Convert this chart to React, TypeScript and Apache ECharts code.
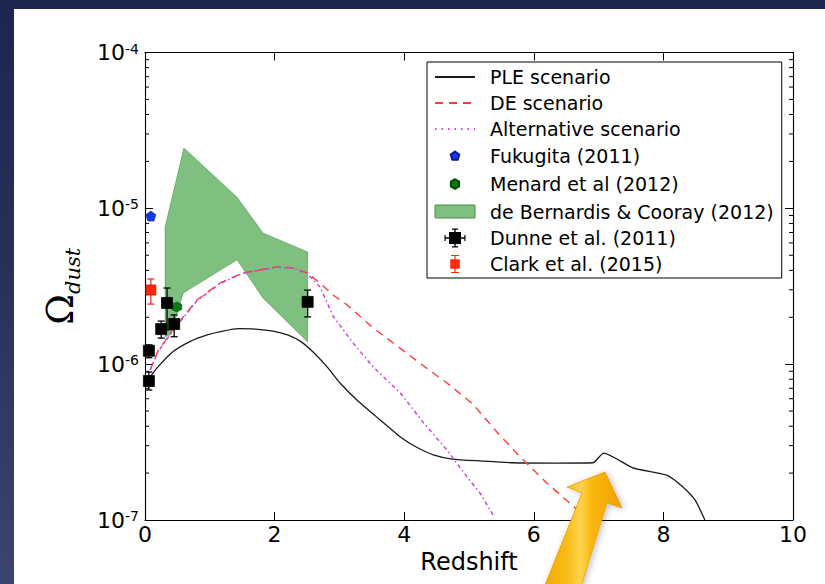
import React, { useEffect, useRef } from 'react';
import * as echarts from 'echarts';

// Axis ranges
const zRange = [0, 10];
const omegaRange = [1e-7, 1e-4];
const minorMultipliers = [2, 3, 4, 5, 6, 7, 8, 9];
const minorDecades = [1e-7, 1e-6, 1e-5];

// PLE scenario (solid black)
const pleZ = [0.08, 0.2, 0.43, 0.7, 0.96, 1.2, 1.45, 1.7, 1.98, 2.2, 2.4, 2.59, 2.81, 3.01, 3.27, 3.63, 3.94, 4.2, 4.45, 4.74, 5.2, 5.68, 6.3, 6.91, 7.08, 7.53, 8.05, 8.3, 8.49, 8.64];
const pleOmega = [8.28e-7, 9.6e-7, 1.2e-6, 1.4e-6, 1.54e-6, 1.63e-6, 1.69e-6, 1.68e-6, 1.63e-6, 1.54e-6, 1.4e-6, 1.2e-6, 9.6e-7, 7.57e-7, 5.89e-7, 4.38e-7, 3.41e-7, 2.92e-7, 2.62e-7, 2.46e-7, 2.39e-7, 2.33e-7, 2.32e-7, 2.33e-7, 2.69e-7, 2.16e-7, 1.94e-7, 1.63e-7, 1.34e-7, 1.0e-7];

// DE scenario (red dashed)
const deZ = [0.08, 0.2, 0.43, 0.8, 1.16, 1.51, 2.03, 2.3, 2.5, 2.7, 2.9, 3.12, 3.52, 3.89, 4.3, 4.66, 5.06, 5.43, 5.79, 6.2, 6.53, 6.85];
const deOmega = [9.18e-7, 1.22e-6, 1.66e-6, 2.58e-6, 3.32e-6, 3.85e-6, 4.21e-6, 4.14e-6, 3.85e-6, 3.32e-6, 2.78e-6, 2.4e-6, 1.71e-6, 1.31e-6, 9.73e-7, 7.57e-7, 5.55e-7, 3.67e-7, 2.54e-7, 1.73e-7, 1.31e-7, 1.0e-7];

// Alternative scenario (magenta dash-dot)
const altZ = [0.08, 0.2, 0.43, 0.8, 1.16, 1.51, 2.03, 2.3, 2.5, 2.7, 2.91, 3.21, 3.52, 3.94, 4.3, 4.66, 4.97, 5.17, 5.37];
const altOmega = [9.18e-7, 1.2e-6, 1.64e-6, 2.55e-6, 3.3e-6, 3.83e-6, 4.19e-6, 4.12e-6, 3.82e-6, 3.13e-6, 2.01e-6, 1.37e-6, 9.6e-7, 6.53e-7, 4.2e-7, 2.81e-7, 1.89e-7, 1.49e-7, 1.08e-7];

// de Bernardis & Cooray (2012) band, outline traced clockwise
const bandZ = [0.31, 0.6, 1.42, 1.82, 2.51, 2.51, 1.82, 1.42, 0.59, 0.4, 0.31];
const bandOmega = [7.6e-6, 2.44e-5, 1.18e-5, 6.95e-6, 5.25e-6, 1.39e-6, 2.66e-6, 4.67e-6, 2.86e-6, 1.55e-6, 1.5e-6];

// Fukugita (2011)
const fukugitaZ = [0.09];
const fukugitaOmega = [8.93e-6];

// Menard et al (2012)
const menardZ = [0.49];
const menardOmega = [2.33e-6];

// Dunne et al. (2011) with lower / upper error
const dunneZ = [0.06, 0.06, 0.25, 0.34, 0.45, 2.51];
const dunneOmega = [7.8e-7, 1.22e-6, 1.68e-6, 2.47e-6, 1.81e-6, 2.51e-6];
const dunneLow = [6.83e-7, 1.1e-6, 1.47e-6, 1.66e-6, 1.5e-6, 2.01e-6];
const dunneHigh = [8.9e-7, 1.33e-6, 1.89e-6, 3.08e-6, 2.07e-6, 2.99e-6];

// Clark et al. (2015)
const clarkZ = [0.09];
const clarkOmega = [2.99e-6];
const clarkLow = [2.43e-6];
const clarkHigh = [3.52e-6];

const legendNames = [
  'PLE scenario',
  'DE scenario',
  'Alternative scenario',
  'Fukugita (2011)',
  'Menard et al (2012)',
  'de Bernardis & Cooray (2012)',
  'Dunne et al. (2011)',
  'Clark et al. (2015)',
];

const pentagon = 'path://M0,-10 L9.51,-3.09 L5.88,8.09 L-5.88,8.09 L-9.51,-3.09 Z';
const hexagon = 'path://M0,-10 L8.66,-5 L8.66,5 L0,10 L-8.66,5 L-8.66,-5 Z';

// legend icons: leading move-to points widen the box so the glyph stays small
const pentagonIcon = 'path://M-20,-20 M20,20 M0,-9 L8.56,-2.78 L5.29,7.28 L-5.29,7.28 L-8.56,-2.78 Z';
const hexagonIcon = 'path://M-20,-20 M20,20 M0,-9.5 L8.23,-4.75 L8.23,4.75 L0,9.5 L-8.23,4.75 L-8.23,-4.75 Z';
const bandIcon = 'path://M0,0 M40,20 M0,3.5 L40,3.5 L40,16.5 L0,16.5 Z';
const dunneIcon =
  'path://M-10.5,-10 M10.5,10 ' +
  'M-6,-6 L6,-6 L6,6 L-6,6 Z ' +
  'M-10.5,-0.7 L10.5,-0.7 L10.5,0.7 L-10.5,0.7 Z ' +
  'M-0.7,-9.5 L0.7,-9.5 L0.7,9.5 L-0.7,9.5 Z ' +
  'M-10.5,-3 L-9.3,-3 L-9.3,3 L-10.5,3 Z ' +
  'M9.3,-3 L10.5,-3 L10.5,3 L9.3,3 Z ' +
  'M-3,-9.5 L3,-9.5 L3,-8.3 L-3,-8.3 Z ' +
  'M-3,8.3 L3,8.3 L3,9.5 L-3,9.5 Z';
const clarkIcon =
  'path://M-10,-10 M10,10 ' +
  'M-4.8,-4.8 L4.8,-4.8 L4.8,4.8 L-4.8,4.8 Z ' +
  'M-0.6,-9 L0.6,-9 L0.6,9 L-0.6,9 Z ' +
  'M-4,-9 L4,-9 L4,-7.9 L-4,-7.9 Z ' +
  'M-4,7.9 L4,7.9 L4,9 L-4,9 Z';

const RED = '#ff3b3b';
const MAGENTA = '#c845d8';
const BAND_FILL = 'rgba(0,128,0,0.5)';
const FONT = 'DejaVu Sans';

function errorBarRenderer(fill: string, barColor: string, edge: string, size: number) {
  return (_params: any, api: any) => {
    const z = api.value(0);
    const c = api.coord([z, api.value(1)]);
    const lo = api.coord([z, api.value(2)]);
    const hi = api.coord([z, api.value(3)]);
    const cap = 3.5;
    const ls = { stroke: barColor, lineWidth: 1.3 };
    return {
      type: 'group',
      children: [
        { type: 'line', shape: { x1: c[0], y1: lo[1], x2: c[0], y2: hi[1] }, style: ls },
        { type: 'line', shape: { x1: c[0] - cap, y1: lo[1], x2: c[0] + cap, y2: lo[1] }, style: ls },
        { type: 'line', shape: { x1: c[0] - cap, y1: hi[1], x2: c[0] + cap, y2: hi[1] }, style: ls },
        {
          type: 'rect',
          shape: { x: c[0] - size / 2, y: c[1] - size / 2, width: size, height: size },
          style: { fill, stroke: edge, lineWidth: 0.8 },
        },
      ],
    };
  };
}

export default function App() {
  const ref = useRef<HTMLDivElement>(null);

  useEffect(() => {
    if (!ref.current) return;
    const chart = echarts.init(ref.current, undefined, { renderer: 'svg' });

    const minorTicks: number[][] = [];
    minorDecades.forEach((d) => minorMultipliers.forEach((m) => minorTicks.push([zRange[0], m * d])));

    const axisLine = { show: true, onZero: false, lineStyle: { color: '#000', width: 1.1 } };
    const axisTick = { show: true, inside: true, length: 8, lineStyle: { color: '#000', width: 1 } };
    const hiddenSymbol = { opacity: 0 };

    const option: any = {
      animation: false,
      backgroundColor: 'transparent',
      textStyle: { fontFamily: FONT },
      grid: { left: 145, right: 32, top: 52.5, bottom: 64, outerBoundsMode: 'none' },
      xAxis: [
        {
          type: 'value',
          min: zRange[0],
          max: zRange[1],
          interval: 2,
          position: 'bottom',
          axisLine,
          axisTick,
          splitLine: { show: false },
          axisLabel: { show: true, color: '#000', fontSize: 22, margin: 3, fontFamily: FONT },
          name: 'Redshift',
          nameLocation: 'middle',
          nameGap: 26,
          nameTextStyle: { fontSize: 24, color: '#000', fontFamily: FONT },
        },
        {
          type: 'value',
          min: zRange[0],
          max: zRange[1],
          interval: 2,
          position: 'top',
          axisLine,
          axisTick,
          splitLine: { show: false },
          axisLabel: { show: false },
        },
      ],
      yAxis: [
        {
          type: 'log',
          logBase: 10,
          min: omegaRange[0],
          max: omegaRange[1],
          position: 'left',
          axisLine,
          axisTick,
          splitLine: { show: false },
          axisLabel: {
            show: true,
            margin: 6,
            formatter: (v: number) => `{a|10}{b|${Math.round(Math.log10(v))}}`,
            rich: {
              a: { fontSize: 22, lineHeight: 22, padding: [9, 0, 0, 0], color: '#000', fontFamily: FONT, verticalAlign: 'bottom' },
              b: { fontSize: 14, lineHeight: 14, padding: [0, 0, 17, 0], color: '#000', fontFamily: FONT, verticalAlign: 'top' },
            },
          },
          name: '{o|Ω}{s|dust}',
          nameLocation: 'middle',
          nameRotate: 90,
          nameGap: 62,
          nameTextStyle: {
            rich: {
              o: { fontSize: 37, lineHeight: 40, fontFamily: 'DejaVu Serif', color: '#000', padding: [0, 0, 4, 0], verticalAlign: 'bottom' },
              s: { fontSize: 21, lineHeight: 26, fontFamily: 'DejaVu Serif', fontStyle: 'italic', color: '#000', verticalAlign: 'bottom' },
            },
          },
        },
        {
          type: 'log',
          logBase: 10,
          min: omegaRange[0],
          max: omegaRange[1],
          position: 'right',
          axisLine,
          axisTick,
          splitLine: { show: false },
          axisLabel: { show: false },
        },
      ],
      legend: {
        show: true,
        selectedMode: false,
        orient: 'vertical',
        left: 427,
        top: 62,
        padding: [5, 8, 4, 7],
        itemGap: 6,
        itemWidth: 40,
        itemHeight: 20,
        backgroundColor: '#fff',
        borderColor: '#000',
        borderWidth: 1,
        borderRadius: 0,
        textStyle: { fontSize: 19, lineHeight: 20, color: '#000', fontFamily: FONT, padding: [0, 0, 0, 10] },
        data: [
          { name: legendNames[0], itemStyle: hiddenSymbol },
          { name: legendNames[1], itemStyle: hiddenSymbol },
          { name: legendNames[2], itemStyle: hiddenSymbol, lineStyle: { type: [1.5, 5] } },
          { name: legendNames[3], icon: pentagonIcon },
          { name: legendNames[4], icon: hexagonIcon },
          { name: legendNames[5], icon: bandIcon, itemStyle: { color: BAND_FILL, borderColor: '#4f8f4f', borderWidth: 1 } },
          { name: legendNames[6], icon: dunneIcon },
          { name: legendNames[7], icon: clarkIcon },
        ],
      },
      series: [
        {
          name: legendNames[5],
          type: 'custom',
          z: 1,
          silent: true,
          itemStyle: { color: BAND_FILL },
          encode: { x: 0, y: 1 },
          data: bandZ.map((z, i) => [z, bandOmega[i]]),
          renderItem: (params: any, api: any) => {
            if (params.dataIndex !== 0) return null;
            const points = bandZ.map((z, i) => api.coord([z, bandOmega[i]]));
            return {
              type: 'polygon',
              shape: { points },
              style: { fill: BAND_FILL, stroke: 'rgba(0,110,0,0.45)', lineWidth: 0.8 },
            };
          },
        },
        {
          name: legendNames[0],
          type: 'line',
          z: 3,
          symbol: 'none',
          smooth: 0.2,
          silent: true,
          lineStyle: { color: '#1a1a1a', width: 1.3 },
          itemStyle: { color: '#1a1a1a' },
          data: pleZ.map((z, i) => [z, pleOmega[i]]),
        },
        {
          name: legendNames[1],
          type: 'line',
          z: 3,
          symbol: 'none',
          silent: true,
          lineStyle: { color: RED, width: 1.4, type: [8, 6] },
          itemStyle: { color: RED },
          data: deZ.map((z, i) => [z, deOmega[i]]),
        },
        {
          name: legendNames[2],
          type: 'line',
          z: 3,
          symbol: 'none',
          silent: true,
          lineStyle: { color: MAGENTA, width: 1.5, type: [4, 3, 1.5, 3] },
          itemStyle: { color: MAGENTA },
          data: altZ.map((z, i) => [z, altOmega[i]]),
        },
        {
          name: 'minor ticks',
          type: 'custom',
          z: 4,
          silent: true,
          encode: { x: 0, y: 1 },
          data: minorTicks,
          renderItem: (_params: any, api: any) => {
            const v = api.value(1);
            const l = api.coord([zRange[0], v]);
            const r = api.coord([zRange[1], v]);
            const st = { stroke: '#000', lineWidth: 1 };
            return {
              type: 'group',
              children: [
                { type: 'line', shape: { x1: l[0], y1: l[1], x2: l[0] + 4, y2: l[1] }, style: st },
                { type: 'line', shape: { x1: r[0] - 4, y1: r[1], x2: r[0], y2: r[1] }, style: st },
              ],
            };
          },
        },
        {
          name: legendNames[3],
          type: 'scatter',
          z: 5,
          silent: true,
          symbol: pentagon,
          symbolSize: 10,
          itemStyle: { color: '#1338ee', borderColor: '#0a1a9a', borderWidth: 0.6, opacity: 1 },
          data: fukugitaZ.map((z, i) => [z, fukugitaOmega[i]]),
        },
        {
          name: legendNames[4],
          type: 'scatter',
          z: 5,
          silent: true,
          symbol: hexagon,
          symbolSize: 10,
          itemStyle: { color: '#0b7a12', borderColor: '#034a08', borderWidth: 0.6, opacity: 1 },
          data: menardZ.map((z, i) => [z, menardOmega[i]]),
        },
        {
          name: legendNames[6],
          type: 'custom',
          z: 6,
          silent: true,
          itemStyle: { color: '#000' },
          encode: { x: 0, y: 1 },
          data: dunneZ.map((z, i) => [z, dunneOmega[i], dunneLow[i], dunneHigh[i]]),
          renderItem: errorBarRenderer('#000', '#000', '#000', 11),
        },
        {
          name: legendNames[7],
          type: 'custom',
          z: 6,
          silent: true,
          itemStyle: { color: '#ff2a10' },
          encode: { x: 0, y: 1 },
          data: clarkZ.map((z, i) => [z, clarkOmega[i], clarkLow[i], clarkHigh[i]]),
          renderItem: errorBarRenderer('#ff2a10', '#f03030', '#b01000', 10),
        },
      ],
      graphic: [
        {
          type: 'polygon',
          z: 100,
          silent: true,
          shape: {
            points: [
              [605, 472],
              [622, 508],
              [607, 503],
              [580, 590],
              [543, 590],
              [582, 493],
              [567, 487],
            ],
          },
          style: {
            fill: {
              type: 'linear',
              x: 0,
              y: 0,
              x2: 1,
              y2: 0,
              colorStops: [
                { offset: 0, color: '#f2a700' },
                { offset: 0.3, color: '#f9bc16' },
                { offset: 0.48, color: '#ffd34d' },
                { offset: 0.62, color: '#f8b70a' },
                { offset: 1, color: '#efa200' },
              ],
            },
            stroke: '#e8a000',
            lineWidth: 0.8,
            shadowBlur: 6,
            shadowOffsetX: 2,
            shadowOffsetY: 1,
            shadowColor: 'rgba(0,0,0,0.25)',
          },
        },
      ],
    };

    chart.setOption(option);
    return () => chart.dispose();
  }, []);

  return (
    <div
      style={{
        position: 'fixed',
        left: 0,
        top: 0,
        width: 825,
        height: 584,
        overflow: 'hidden',
        background: 'linear-gradient(180deg, #1e2650 0%, #283058 45%, #3c4570 100%)',
      }}
    >
      <div style={{ position: 'absolute', left: 14, top: 9, right: 0, bottom: 0, background: '#fff' }} />
      <div ref={ref} style={{ position: 'absolute', left: 0, top: 0, width: 825, height: 584 }} />
    </div>
  );
}
